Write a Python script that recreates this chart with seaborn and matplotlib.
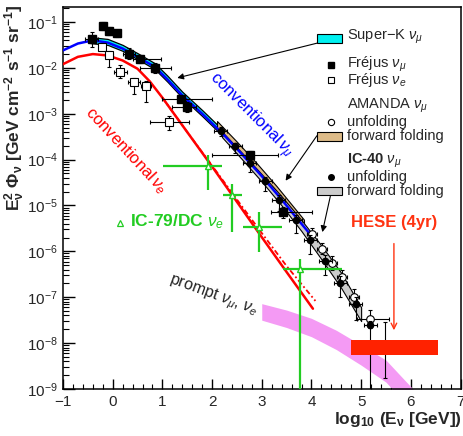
import numpy as np
import matplotlib
matplotlib.use('Agg')
import matplotlib.pyplot as plt
import seaborn as sns
from matplotlib.patches import Rectangle
from matplotlib.ticker import MultipleLocator, LogLocator, NullFormatter

# ---------------- data (x = log10(E/GeV), values are log10 of E^2 Phi) ----------------
conv_mu_x = [-1.0, -0.7, -0.4, -0.1, 0.2, 0.5, 0.85, 1.1, 1.4, 1.8, 2.2, 2.6, 3.0, 3.4, 3.7, 4.0]
conv_mu_logy = [-1.62, -1.47, -1.40, -1.45, -1.58, -1.76, -1.98, -2.25, -2.60, -3.00, -3.42, -3.88, -4.36, -4.87, -5.27, -5.66]

conv_e_x = [-1.0, -0.7, -0.4, -0.1, 0.2, 0.5, 0.75, 1.0, 1.5, 2.0, 2.5, 3.0, 3.5, 4.03]
conv_e_logy = [-1.92, -1.76, -1.70, -1.73, -1.84, -2.02, -2.30, -2.65, -3.40, -4.15, -4.92, -5.69, -6.45, -7.25]

conv_e2_x = [1.0, 1.5, 2.0, 2.5, 3.0, 3.5, 4.08]
conv_e2_logy = [-2.65, -3.40, -4.13, -4.87, -5.60, -6.32, -7.08]

superk_x = [-0.45, -0.1, 0.2, 0.5, 0.85, 1.1, 1.4, 1.8, 2.2, 2.6, 3.0, 3.4, 3.6]
superk_hi = [-1.33, -1.37, -1.50, -1.68, -1.90, -2.17, -2.52, -2.92, -3.34, -3.80, -4.28, -4.79, -5.06]
superk_lo = [-1.46, -1.50, -1.63, -1.81, -2.03, -2.30, -2.65, -3.05, -3.47, -3.93, -4.41, -4.92, -5.19]

amanda_ff_x = [2.1, 2.5, 2.9, 3.3, 3.85]
amanda_ff_hi = [-3.16, -3.61, -4.08, -4.58, -5.31]
amanda_ff_lo = [-3.34, -3.79, -4.26, -4.76, -5.49]

ic40_ff_x = [2.2, 2.6, 3.0, 3.4, 3.8, 4.2, 4.6, 5.0]
ic40_ff_hi = [-3.39, -3.85, -4.32, -4.80, -5.32, -5.87, -6.47, -7.22]
ic40_ff_lo = [-3.51, -3.99, -4.48, -5.00, -5.56, -6.17, -6.80, -7.52]

prompt_x = [3.0, 3.5, 4.0, 4.5, 5.0, 5.5, 6.0, 6.3]
prompt_hi = [-7.14, -7.28, -7.46, -7.72, -8.04, -8.37, -8.95, -9.30]
prompt_lo = [-7.50, -7.66, -7.86, -8.14, -8.48, -8.85, -9.45, -9.80]

frejus_mu_x = [-0.42, -0.20, -0.07, 0.08, 0.33, 0.55, 0.85, 1.38, 1.50, 2.77, 3.42]
frejus_mu_logy = [-1.38, -1.09, -1.20, -1.25, -1.69, -1.80, -2.01, -2.68, -2.86, -3.89, -5.15]
frejus_mu_xlo = [0.13, 0.06, 0.06, 0.06, 0.12, 0.14, 0.30, 0.39, 0.31, 0.78, 0.24]
frejus_mu_xhi = [0.13, 0.06, 0.06, 0.06, 0.12, 0.43, 0.33, 0.62, 0.18, 0.56, 0.60]
frejus_mu_dy = [0.17, 0.08, 0.08, 0.08, 0.12, 0.09, 0.11, 0.07, 0.11, 0.07, 0.12]

frejus_e_x = [-0.22, -0.07, 0.15, 0.42, 0.67, 1.14]
frejus_e_logy = [-1.54, -1.72, -2.08, -2.30, -2.39, -3.17]
frejus_e_dx = [0.06, 0.08, 0.13, 0.12, 0.10, 0.39]
frejus_e_dlo = [0.08, 0.27, 0.15, 0.28, 0.35, 0.18]
frejus_e_dhi = [0.08, 0.08, 0.15, 0.08, 0.10, 0.12]

ic40_x = [2.17, 2.47, 2.76, 3.07, 3.34, 3.68, 3.98, 4.28, 4.58, 4.89, 5.18, 5.48]
ic40_logy = [-3.37, -3.71, -4.08, -4.47, -4.88, -5.31, -5.76, -6.21, -6.69, -7.15, -7.61, -8.15]
ic40_dlo = [0.12, 0.15, 0.20, 0.22, 0.25, 0.30, 0.30, 0.30, 0.30, 0.35, 2.00, 0.62]
ic40_dhi = [0.08, 0.08, 0.10, 0.10, 0.10, 0.10, 0.12, 0.12, 0.15, 0.15, 0.10, 0.62]
ic40_dx = [0.13] * 12

amanda_x = [4.01, 4.22, 4.42, 4.62, 4.85, 5.18]
amanda_logy = [-5.62, -5.94, -6.25, -6.56, -7.00, -7.48]
amanda_xlo = [0.10, 0.10, 0.10, 0.10, 0.10, 0.26]
amanda_xhi = [0.10, 0.10, 0.10, 0.10, 0.10, 0.38]
amanda_dy = [0.12, 0.12, 0.15, 0.15, 0.18, 0.20]

ic79_x = [1.91, 2.40, 2.94, 3.76]
ic79_logy = [-4.15, -4.78, -5.46, -6.38]
ic79_xlo = [0.90, 0.18, 0.32, 0.33]
ic79_xhi = [0.28, 0.20, 0.47, 0.86]
ic79_ylo = [-4.67, -5.58, -6.02, -9.60]
ic79_yhi = [-3.91, -4.53, -5.15, -6.16]

hese_x = [4.79, 6.55]
hese_lo = [-8.25, -8.25]
hese_hi = [-7.93, -7.93]

# ---------------- style ----------------
sns.set_theme(style='ticks')
plt.rcParams['font.family'] = ['Liberation Sans', 'DejaVu Sans']
plt.rcParams['mathtext.fontset'] = 'custom'
plt.rcParams['mathtext.rm'] = 'Liberation Sans'
plt.rcParams['mathtext.it'] = 'Liberation Sans:italic'
plt.rcParams['mathtext.bf'] = 'Liberation Sans:bold'
plt.rcParams['axes.linewidth'] = 1.1

P = lambda v: 10 ** np.asarray(v, dtype=float)

fig = plt.figure(figsize=(4.64, 4.36), dpi=100)
ax = fig.add_axes([63 / 464, 1 - 389 / 436, 397.5 / 464, 382 / 436])
ax.set_yscale('log')
ax.set_xlim(-1, 7)
ax.set_ylim(1e-9, 10 ** (-1 + 15 / 46))

# bands
ax.fill_between(prompt_x, P(prompt_lo), P(prompt_hi), color='#f49af4', lw=0, zorder=1)
ax.fill_between(superk_x, P(superk_lo), P(superk_hi), facecolor='#00f0f0', edgecolor='black', lw=0.9, zorder=2)
ax.fill_between(amanda_ff_x, P(amanda_ff_lo), P(amanda_ff_hi), facecolor='#ddbb88', edgecolor='black', lw=0.8, zorder=2.5)
ax.fill_between(ic40_ff_x, P(ic40_ff_lo), P(ic40_ff_hi), facecolor='#cccccc', edgecolor='black', lw=0.8, zorder=3)

# model curves
sns.lineplot(x=conv_e_x, y=P(conv_e_logy), color='#ff0000', lw=1.8, ax=ax, zorder=4)
sns.lineplot(x=conv_e2_x, y=P(conv_e2_logy), color='#ff0000', lw=1.3, ls=(0, (3, 1.5, 1, 1.5)), ax=ax, zorder=4)
sns.lineplot(x=conv_mu_x, y=P(conv_mu_logy), color='#0000ff', lw=1.8, ax=ax, zorder=4)


def asym(logy, dlo, dhi):
    ly = np.asarray(logy, float)
    y = 10 ** ly
    return y, [y - 10 ** (ly - np.asarray(dlo)), 10 ** (ly + np.asarray(dhi)) - y]


# Frejus numu
y, ye = asym(frejus_mu_logy, frejus_mu_dy, frejus_mu_dy)
ax.errorbar(frejus_mu_x, y, yerr=ye, xerr=[frejus_mu_xlo, frejus_mu_xhi], fmt='s', ms=5.5,
            color='black', mfc='black', elinewidth=0.8, capsize=1.5, capthick=0.8, zorder=6)
# Frejus nue
y, ye = asym(frejus_e_logy, frejus_e_dlo, frejus_e_dhi)
ax.errorbar(frejus_e_x, y, yerr=ye, xerr=frejus_e_dx, fmt='s', ms=5.5, color='black', mfc='white',
            mec='black', mew=0.8, elinewidth=0.8, capsize=1.5, capthick=0.8, zorder=6)
# AMANDA unfolding
y, ye = asym(amanda_logy, amanda_dy, amanda_dy)
ax.errorbar(amanda_x, y, yerr=ye, xerr=[amanda_xlo, amanda_xhi], fmt='o', ms=5.5, color='black', mfc='white',
            mec='black', mew=0.8, elinewidth=0.8, capsize=1.5, capthick=0.8, zorder=6)
# IC-40 unfolding
y, ye = asym(ic40_logy, ic40_dlo, ic40_dhi)
ax.errorbar(ic40_x, y, yerr=ye, xerr=ic40_dx, fmt='o', ms=4.5, color='black',
            elinewidth=0.8, capsize=1.5, capthick=0.8, zorder=7)
# IC-79/DC nue
y = P(ic79_logy)
ax.errorbar(ic79_x, y, yerr=[y - P(ic79_ylo), P(ic79_yhi) - y], xerr=[ic79_xlo, ic79_xhi], fmt='^',
            ms=5, color='#22cc22', mfc='white', mec='#22cc22', mew=1.0, elinewidth=1.6, capsize=0, zorder=8)

# HESE
ax.fill_between(hese_x, P(hese_lo), P(hese_hi), color='#ff2200', lw=0, zorder=10)

# ---------------- annotations ----------------
arr = dict(arrowstyle='-|>', color='black', lw=0.8, mutation_scale=9, shrinkA=0, shrinkB=0)
ax.annotate('', xy=(1.30, 10 ** -2.22), xytext=(4.12, 10 ** -1.46), arrowprops=arr, zorder=9)
ax.annotate('', xy=(3.48, 10 ** -4.46), xytext=(4.11, 10 ** -3.48), arrowprops=arr, zorder=9)
ax.annotate('', xy=(4.22, 10 ** -5.58), xytext=(4.38, 10 ** -4.80), arrowprops=arr, zorder=9)
ax.annotate('', xy=(5.66, 10 ** -7.72), xytext=(5.66, 10 ** -5.83),
            arrowprops=dict(arrowstyle='->', color='#ff3311', lw=1.0, mutation_scale=10, shrinkA=0, shrinkB=0), zorder=9)

ax.text(2.77, 10 ** -3.04, r'conventional$\,\nu_\mu$', rotation=-45, color='#0000ff', fontsize=12,
        ha='center', va='center', rotation_mode='anchor', zorder=9)
ax.text(0.27, 10 ** -3.80, r'conventional$\,\nu_e$', rotation=-47, color='#ff0000', fontsize=12,
        ha='center', va='center', rotation_mode='anchor', zorder=9)
ax.text(2.02, 10 ** -6.96, r'prompt $\nu_\mu$, $\nu_e$', rotation=-20, color='#222222', fontsize=11.5,
        ha='center', va='center', rotation_mode='anchor', zorder=9)

T = ax.transAxes
ax.plot([0.1436], [0.4346], marker='^', ms=4.5, mfc='white', mec='#22cc22', mew=0.9, transform=T, clip_on=False)
ax.text(0.169, 0.437, r'IC-79/DC $\nu_e$', color='#22cc22', fontsize=12.5, fontweight='bold',
        transform=T, ha='left', va='center')

# legend
fs = 10.5
tx = 0.715
ax.add_patch(Rectangle((0.640, 0.905), 0.062, 0.024, transform=T, fc='#00f0f0', ec='black', lw=0.8, clip_on=False))
ax.text(tx, 0.922, r'Super$-$K $\nu_\mu$', transform=T, fontsize=fs, va='center')
ax.plot([0.673], [0.848], marker='s', ms=4.5, color='black', transform=T, clip_on=False)
ax.text(tx, 0.850, r'Fréjus $\nu_\mu$', transform=T, fontsize=fs, va='center')
ax.plot([0.673], [0.809], marker='s', ms=4.5, mfc='white', mec='black', mew=0.8, transform=T, clip_on=False)
ax.text(tx, 0.809, r'Fréjus $\nu_e$', transform=T, fontsize=fs, va='center')
ax.text(tx, 0.742, r'AMANDA $\nu_\mu$', transform=T, fontsize=fs, va='center')
ax.plot([0.673], [0.700], marker='o', ms=4.5, mfc='white', mec='black', mew=0.8, transform=T, clip_on=False)
ax.text(tx, 0.700, 'unfolding', transform=T, fontsize=fs, va='center')
ax.add_patch(Rectangle((0.639, 0.650), 0.063, 0.024, transform=T, fc='#ddbb88', ec='black', lw=0.8, clip_on=False))
ax.text(tx, 0.663, 'forward folding', transform=T, fontsize=fs, va='center')
ax.text(tx, 0.597, r'IC-40 $\nu_\mu$', transform=T, fontsize=fs, va='center', fontweight='bold')
ax.plot([0.673], [0.556], marker='o', ms=4, color='black', transform=T, clip_on=False)
ax.text(tx, 0.556, 'unfolding', transform=T, fontsize=fs, va='center')
ax.add_patch(Rectangle((0.640, 0.508), 0.062, 0.022, transform=T, fc='#cccccc', ec='black', lw=0.8, clip_on=False))
ax.text(tx, 0.519, 'forward folding', transform=T, fontsize=fs, va='center')
ax.text(0.833, 0.435, 'HESE (4yr)', transform=T, fontsize=12, fontweight='bold', color='#ff3311',
        ha='center', va='center')

# ---------------- axes ----------------
ax.xaxis.set_major_locator(MultipleLocator(1))
ax.xaxis.set_minor_locator(MultipleLocator(0.2))
ax.yaxis.set_major_locator(LogLocator(base=10, numticks=20))
ax.yaxis.set_minor_locator(LogLocator(base=10, subs=np.arange(2, 10), numticks=20))
ax.yaxis.set_minor_formatter(NullFormatter())
ax.tick_params(axis='both', which='both', direction='in', top=False, right=False, color='black')
ax.tick_params(axis='y', which='major', length=8.5, width=1.0, labelsize=11, pad=4)
ax.tick_params(axis='y', which='minor', length=4.3, width=0.8)
ax.tick_params(axis='x', which='major', length=7, width=1.0, labelsize=11, pad=4)
ax.tick_params(axis='x', which='minor', length=3.6, width=0.8)
for s in ax.spines.values():
    s.set_color('black')
    s.set_linewidth(1.1)

fig.text(15 / 464, 1 - 108 / 436, r'$\mathbf{E^2_{\nu}\ \Phi_{\nu}\ [GeV\ cm^{-2}\ s^{-1}\ sr^{-1}]}$',
         rotation=90, ha='center', va='center', fontsize=12.5)
fig.text(462 / 464, 1 - 419 / 436, r'$\mathbf{log_{10}\ (E_{\nu}\ [GeV])}$', ha='right', va='center', fontsize=12.5)

fig.savefig('out.png', dpi=100)
